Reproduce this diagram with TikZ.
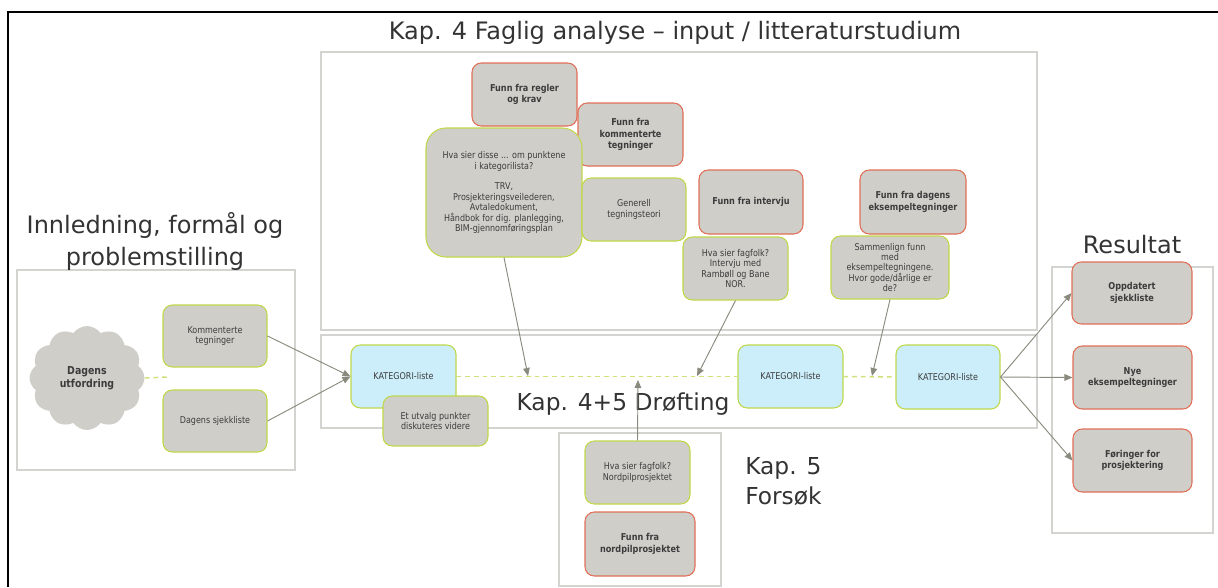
\documentclass[tikz,border=0pt]{standalone}
\usepackage{fontspec}
\setmainfont{DejaVu Sans}
\newfontfamily\bxf[FakeStretch=0.86]{DejaVu Sans}
\usetikzlibrary{arrows.meta,shapes.symbols}
\definecolor{boxgray}{HTML}{D0CEC9}
\definecolor{grn}{HTML}{BFD84A}
\definecolor{redb}{HTML}{E07058}
\definecolor{lblue}{HTML}{CCEEFB}
\definecolor{contgray}{HTML}{D3D3CF}
\definecolor{arr}{HTML}{8A8A7E}
\definecolor{dgreen}{HTML}{CCE27A}
\definecolor{txt}{HTML}{3C3C3C}
\definecolor{ttl}{HTML}{333333}
\newcommand\bx[7]{\node[#6, minimum width={(#4-#2)*0.75pt}, minimum height={(#5-#3)*0.75pt}] (#1) at ({(#2+#4)/2},{(#3+#5)/2}) {#7};}
\tikzset{
 base/.style={rounded corners=7pt, fill=boxgray, line width=0.8pt, inner sep=0pt, align=center, text=txt, font=\bxf\fontsize{7}{7.8}\selectfont},
 gbox/.style={base, draw=grn},
 rbox/.style={base, draw=redb, font=\bxf\bfseries\fontsize{7.1}{8.4}\selectfont},
 kbox/.style={base, draw=grn, fill=lblue},
 cont/.style={draw=contgray, line width=1.9pt, inner sep=0pt},
 conn/.style={draw=arr, line width=0.7pt, -{Triangle[length=6pt,width=5pt]}},
 dsh/.style={draw=dgreen, line width=1.1pt, dash pattern=on 3.5pt off 3pt},
 ttlnode/.style={font=\fontsize{18}{24}\selectfont, text=ttl, align=center, inner sep=0pt},
}
\begin{document}
\begin{tikzpicture}[x=0.75pt,y=-0.75pt]
\useasboundingbox (0,0) rectangle (1218,587);
\draw[line width=1.2pt] (8,587) -- (8,12) -- (1218,12);
% containers
\bx{cfour}{321}{52}{1037}{330}{cont}{}
\bx{cfourfive}{321}{335}{1037}{428}{cont}{}
\bx{cintro}{17}{270}{295}{470}{cont}{}
\bx{cres}{1052}{267}{1213}{533}{cont}{}
\bx{cfive}{559}{433}{721}{586}{cont}{}
% titles
\node[ttlnode] (tfour) at (675,33) {Kap. 4 Faglig analyse – input / litteraturstudium};
\node[ttlnode] (tintro) at (155,241) {Innledning, formål og\\problemstilling};
\node[ttlnode] (tres) at (1132,245) {Resultat};
\node[ttlnode, font=\fontsize{17.5}{24}\selectfont] (tdisc) at (623,404) {Kap. 4+5 Drøfting};
\node[ttlnode, align=left, anchor=west, font=\fontsize{17.5}{22.5}\selectfont] (tfive) at (745,482) {Kap. 5\\Forsøk};
% intro
\node[cloud, cloud puffs=12, cloud puff arc=110, aspect=1.1, fill=boxgray, draw=none, minimum width=115*0.75pt, minimum height=104*0.75pt, inner sep=0pt, align=center, text=txt, font=\bxf\bfseries\fontsize{8.2}{9.8}\selectfont] (cloud) at (87,378) {Dagens\\utfordring};
\coordinate (cend) at (167,377);
\draw[dsh] (cloud.east) -- (cend);
\bx{komm}{163}{305}{267}{367}{gbox}{Kommenterte\\tegninger}
\bx{sjekk}{163}{390}{267}{452}{gbox}{Dagens sjekkliste}
% discussion
\bx{kat1}{351}{345}{456}{408}{kbox}{KATEGORI-liste}
\bx{kat2}{738}{345}{843}{408}{kbox}{KATEGORI-liste}
\bx{kat3}{896}{345}{1000}{409}{kbox}{KATEGORI-liste}
\draw[dsh] (kat1.east) -- (kat2.west);
\draw[dsh] (kat2.east) -- (kat3.west);
\bx{utv}{383}{396}{488}{446}{gbox}{Et utvalg punkter\\diskuteres videre}
% results
\bx{opp}{1072}{262}{1192}{324}{rbox}{Oppdatert\\sjekkliste}
\bx{nye}{1073}{346}{1192}{409}{rbox}{Nye\\eksempeltegninger}
\bx{fore}{1073}{429}{1192}{492}{rbox}{Føringer for\\prosjektering}
% kap 5
\bx{fagto}{585}{441}{690}{504}{gbox}{Hva sier fagfolk?\\Nordpilprosjektet}
\bx{nord}{585}{512}{695}{576}{rbox}{Funn fra\\nordpilprosjektet}
% kap 4
\bx{regl}{472}{63}{577}{126}{rbox}{Funn fra regler\\og krav}
\bx{komf}{578}{103}{683}{166}{rbox}{Funn fra\\kommenterte\\tegninger}
\bx{disse}{426}{128}{582}{257}{gbox, rounded corners=15pt}{Hva sier disse ... om punktene\\i kategorilista?\\[7.8pt]TRV,\\Prosjekteringsveilederen,\\Avtaledokument,\\Håndbok for dig. planlegging,\\BIM-gjennomføringsplan}
\bx{gen}{582}{178}{686}{241}{gbox}{Generell\\tegningsteori}
\bx{intv}{699}{170}{803}{234}{rbox}{Funn fra intervju}
\bx{fagen}{683}{237}{788}{300}{gbox}{Hva sier fagfolk?\\Intervju med\\Rambøll og Bane\\NOR.}
\bx{dag}{860}{170}{966}{234}{rbox}{Funn fra dagens\\eksempeltegninger}
\bx{sam}{831}{236}{949}{299}{gbox}{Sammenlign funn\\med\\eksempeltegningene.\\Hvor gode/dårlige er\\de?}
% connectors
\coordinate (pa) at (528,376);
\coordinate (pb) at (697,376);
\coordinate (pc) at (872,376);
\coordinate (pd) at (638,380);
\draw[conn] (komm.east) -- (kat1.west);
\draw[conn] (sjekk.east) -- (kat1.west);
\draw[conn] (disse.south) -- (pa);
\draw[conn] (fagen.south) -- (pb);
\draw[conn] (sam.south) -- (pc);
\draw[conn] (fagto.north) -- (pd);
\draw[conn] (kat3.east) -- (opp.west);
\draw[conn] (kat3.east) -- (nye.west);
\draw[conn] (kat3.east) -- (fore.west);
\end{tikzpicture}
\end{document}
